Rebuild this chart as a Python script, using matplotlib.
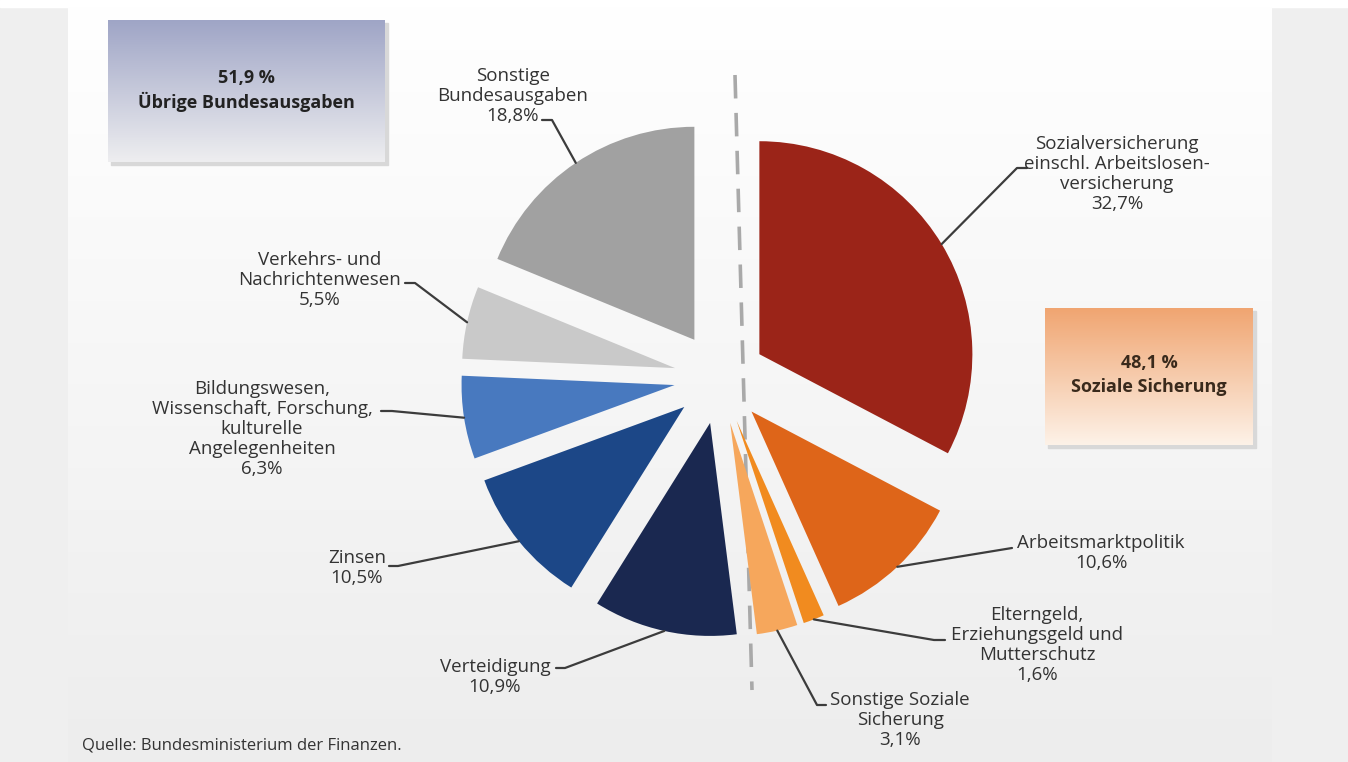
import matplotlib.pyplot as plt
import numpy as np
from matplotlib.colors import LinearSegmentedColormap
from matplotlib.patches import Rectangle

W, H = 1348, 762

# data: Bundeshaushalt, shares in percent, clockwise from 12 o'clock
labels = ["Sozialversicherung\neinschl. Arbeitslosen-\nversicherung",
          "Arbeitsmarktpolitik",
          "Elterngeld,\nErziehungsgeld und\nMutterschutz",
          "Sonstige Soziale\nSicherung",
          "Verteidigung",
          "Zinsen",
          "Bildungswesen,\nWissenschaft, Forschung,\nkulturelle\nAngelegenheiten",
          "Verkehrs- und\nNachrichtenwesen",
          "Sonstige\nBundesausgaben"]
shares = [32.7, 10.6, 1.6, 3.1, 10.9, 10.5, 6.3, 5.5, 18.8]
group_names = ["Übrige Bundesausgaben", "Soziale Sicherung"]
group_shares = [51.9, 48.1]
source = "Quelle: Bundesministerium der Finanzen."

colors = ["#9b2418", "#de6519", "#f18b1f", "#f6a75c",
          "#1a2850", "#1c4787", "#4879bf", "#c9c9c9", "#a1a1a1"]

# label layout in picture pixels: text x, text y, elbow, hook end
layout = [
    (1117, 174, (1017, 168), (1027, 168)),
    (1101, 553, (1012, 548), (1012, 548)),
    (1037, 645, (934, 640), (945, 640)),
    (900, 720, (817, 705), (826, 705)),
    (495, 677, (565, 668), (556, 668)),
    (357, 568, (398, 566), (389, 566)),
    (262, 429, (392, 411), (381, 411)),
    (320, 280, (415, 283), (405, 283)),
    (513, 96, (552, 120), (542, 120)),
]

plt.rcParams['font.family'] = ['Open Sans', 'DejaVu Sans']


def pct(v):
    return ("%.1f" % v).replace(".", ",") + "%"


def vgrad(ax, x0, x1, y0, y1, c_top, c_bot, z):
    cmap = LinearSegmentedColormap.from_list("g", [c_top, c_bot])
    ax.imshow(np.linspace(0, 1, 256).reshape(-1, 1), cmap=cmap, aspect="auto",
              extent=[x0, x1, H - y1, H - y0], origin="upper", zorder=z,
              interpolation="bicubic")


fig = plt.figure(figsize=(W / 100, H / 100), dpi=100)
fig.patch.set_facecolor("#efefef")
ax = fig.add_axes([0, 0, 1, 1])

# background panel
ax.add_patch(Rectangle((0, H - 7), W, 7, color="white", zorder=0))
vgrad(ax, 68, 1272, 7, H, "#ffffff", "#ededed", 0)

# pie, every wedge pushed out by 46 px
wedges, _ = ax.pie(shares, colors=colors, startangle=90, counterclock=False,
                   radius=213, center=(720, H - 378), explode=[46] * 9,
                   wedgeprops=dict(linewidth=0))
for w in wedges:
    w.set_zorder(3)

# split line between the two groups
ax.plot([735, 752], [H - 75, H - 690], color="#a9a9a9", lw=2.6,
        linestyle=(0, (6.5, 4)), zorder=2.5, solid_capstyle="butt")

# labels with leader lines
for w, lab, v, (tx, ty, elbow, hook) in zip(wedges, labels, shares, layout):
    t = np.deg2rad((w.theta1 + w.theta2) / 2)
    px = w.center[0] + w.r * np.cos(t)
    py = w.center[1] + w.r * np.sin(t)
    ax.plot([px, elbow[0], hook[0]], [py, H - elbow[1], H - hook[1]],
            color="#3c3c3c", lw=1.6, zorder=5, solid_capstyle="round")
    ax.text(tx, H - ty, lab + "\n" + pct(v), ha="center", va="center",
            multialignment="center", fontsize=13.5, color="#333333",
            linespacing=1.15, zorder=6)

# group boxes
boxes = [((108, 385, 20, 162), "#9fa5c6", "#eeeef0", "#222222"),
         ((1045, 1253, 308, 445), "#f0a571", "#fdf2e8", "#3a2a1c")]
for (x0, x1, y0, y1), ct, cb, tc in boxes:
    ax.add_patch(Rectangle((x0 + 3, H - y1 - 3), x1 - x0, y1 - y0,
                           color="#d8d8d8", zorder=1))
    vgrad(ax, x0, x1, y0, y1, ct, cb, 2)
for (b, name, v) in zip(boxes, group_names, group_shares):
    x0, x1, y0, y1 = b[0]
    cx = (x0 + x1) / 2
    cy = (y0 + y1) / 2 - 1
    ax.text(cx, H - cy + 12, ("%.1f" % v).replace(".", ",") + " %",
            ha="center", va="center", fontsize=13, fontweight="bold",
            color=b[3], zorder=6)
    ax.text(cx, H - cy - 12, name, ha="center", va="center", fontsize=13,
            fontweight="bold", color=b[3], zorder=6)

ax.text(82, H - 745, source, ha="left", va="center", fontsize=12,
        color="#333333", zorder=6)

ax.set_xlim(0, W)
ax.set_ylim(0, H)
ax.set_aspect("auto")
ax.axis("off")

fig.savefig("out.png", dpi=100, facecolor=fig.get_facecolor())
